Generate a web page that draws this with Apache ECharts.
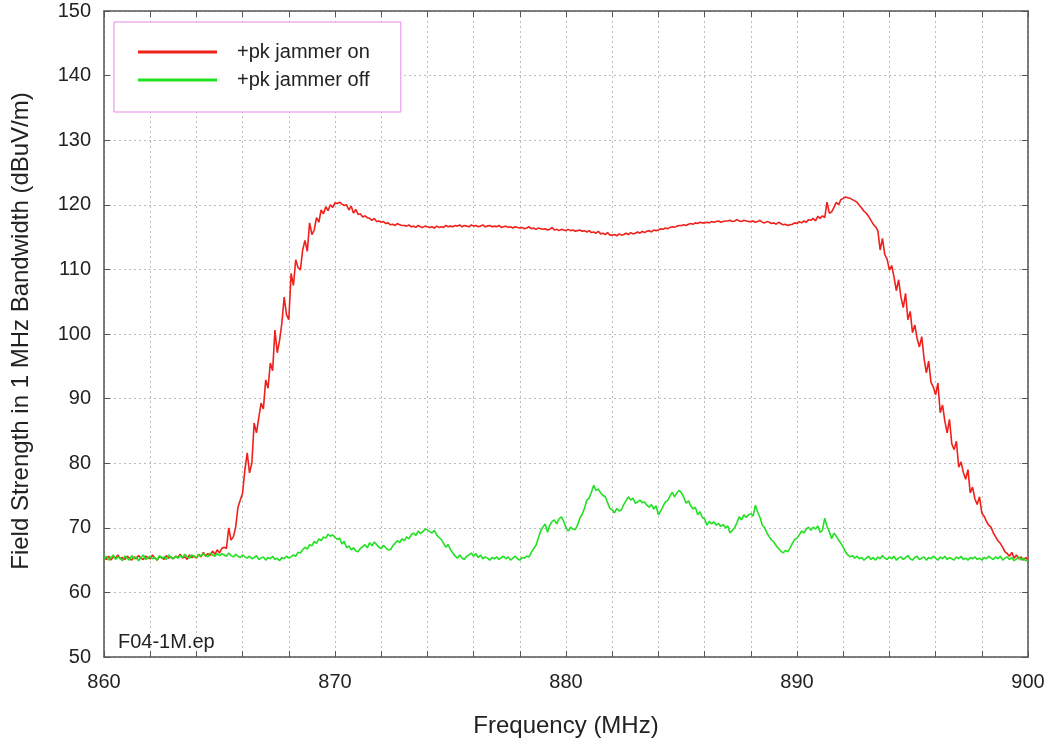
<!DOCTYPE html>
<html>
<head>
<meta charset="utf-8">
<title>Field strength, jammer on/off</title>
<script src="https://cdn.jsdelivr.net/npm/echarts@6/dist/echarts.min.js"></script>
<style>
  html, body { margin: 0; padding: 0; background: #fff; }
  #chart { width: 1052px; height: 752px; }
</style>
</head>
<body>
<div id="chart"></div>
<script>
// Sweep grid: 860 - 900 MHz in 0.1 MHz steps
const freqStart = 860;
const freqStep = 0.1;

// +pk detector, jammer on (dBuV/m)
const jammerOn = [
  65.4, 65.1, 65.6, 65.0, 65.5, 65.3, 65.8, 65.2, 65.4, 65.1,
  65.6, 65.3, 65.0, 65.5, 65.2, 65.7, 65.3, 65.1, 65.6, 65.4,
  65.2, 65.8, 65.3, 65.0, 65.5, 65.4, 65.1, 65.7, 65.3, 65.5,
  65.2, 65.6, 65.4, 65.9, 65.3, 65.5, 65.1, 65.8, 65.4, 65.6,
  65.3, 65.9, 65.5, 66.2, 65.6, 66.0, 65.7, 66.4, 65.9, 66.6,
  66.1, 66.8, 67.0, 66.8, 70.0, 68.1, 68.6, 70.1, 73.2, 74.3,
  75.4, 79.0, 81.6, 78.5, 80.0, 86.2, 84.7, 87.0, 89.3, 88.4,
  92.9, 91.6, 95.5, 94.3, 100.6, 97.1, 99.0, 101.7, 105.7, 103.0,
  102.2, 109.4, 107.5, 111.5, 110.3, 109.9, 113.0, 114.5, 112.8, 117.2,
  115.4, 116.1, 118.0, 117.3, 119.2, 118.6, 119.7, 119.1, 120.0, 119.6,
  120.3, 120.2, 120.4, 120.1, 119.9, 120.0, 119.2, 119.8, 118.7, 119.3,
  118.5, 118.6, 118.1, 118.3, 118.0, 117.9, 117.6, 117.9, 117.4, 117.5,
  117.3, 117.4, 117.1, 117.2, 116.9, 117.0, 116.8, 117.1, 116.9, 116.8,
  116.8, 116.7, 116.9, 116.6, 116.7, 116.5, 116.8, 116.6, 116.5, 116.7,
  116.6, 116.5, 116.6, 116.4, 116.7, 116.5, 116.6, 116.5, 116.8, 116.6,
  116.7, 116.6, 116.8, 116.7, 116.9, 116.6, 116.8, 116.7, 116.6, 116.9,
  116.7, 116.8, 116.6, 116.7, 116.9, 116.6, 116.7, 116.8, 116.6, 116.7,
  116.6, 116.8, 116.5, 116.6, 116.7, 116.5, 116.6, 116.4, 116.6, 116.5,
  116.4, 116.5, 116.3, 116.4, 116.6, 116.3, 116.4, 116.2, 116.4, 116.3,
  116.2, 116.3, 116.1, 116.2, 116.5, 116.1, 116.2, 116.0, 116.2, 116.1,
  116.0, 116.2, 116.0, 116.1, 115.9, 116.0, 116.1, 115.9, 116.0, 115.8,
  116.0, 115.7, 115.8, 115.6, 115.9, 115.5, 115.6, 115.4, 115.7, 115.3,
  115.3, 115.4, 115.2, 115.5, 115.3, 115.4, 115.6, 115.4, 115.7, 115.5,
  115.6, 115.8, 115.6, 115.9, 115.7, 115.9, 116.0, 115.8, 116.1, 116.0,
  116.1, 116.3, 116.2, 116.4, 116.3, 116.5, 116.6, 116.5, 116.7, 116.8,
  116.8, 116.9, 116.8, 117.0, 117.1, 117.0, 117.2, 117.1, 117.3, 117.2,
  117.2, 117.3, 117.2, 117.4, 117.3, 117.4, 117.5, 117.3, 117.4, 117.5,
  117.5, 117.6, 117.4, 117.5, 117.7, 117.5, 117.4, 117.6, 117.5, 117.4,
  117.4, 117.5, 117.3, 117.4, 117.6, 117.3, 117.2, 117.4, 117.3, 117.1,
  117.2, 117.0, 117.3, 117.1, 116.9, 117.0, 116.8, 116.9, 117.0, 117.2,
  117.1, 117.4, 117.2, 117.5, 117.3, 117.7, 117.6, 117.9, 117.5, 118.2,
  117.9, 118.3, 118.0, 120.4, 118.7, 118.9, 119.6, 120.4, 120.0, 120.8,
  121.0, 121.2, 121.1, 121.0, 120.8, 120.6, 120.4, 119.9, 119.5, 119.0,
  118.7, 118.2, 117.6, 117.0, 116.6, 116.0, 113.0, 114.8, 112.3, 111.6,
  109.9, 110.6, 108.8, 106.7, 108.4, 105.7, 104.1, 106.3, 102.2, 103.5,
  100.2, 101.4, 99.3, 98.0, 99.6, 96.2, 94.0, 95.8, 92.5, 91.8,
  90.6, 92.4, 87.8, 89.0, 86.5, 84.7, 86.8, 83.0, 82.1, 83.4,
  79.4, 80.2, 78.6, 77.5, 79.0, 75.4, 76.3, 74.5, 73.6, 74.8,
  72.3, 71.8, 71.0, 70.4, 70.1, 69.2, 68.6, 68.0, 67.6, 67.0,
  66.3, 66.0, 65.6, 66.2, 65.3, 65.8, 65.2, 65.5, 65.0, 65.4,
  65.0
];

// +pk detector, jammer off (dBuV/m)
const jammerOff = [
  65.2, 65.6, 65.0, 65.4, 65.8, 65.1, 65.5, 65.3, 64.9, 65.6,
  65.3, 65.0, 65.7, 65.2, 65.5, 64.9, 65.4, 65.8, 65.1, 65.3,
  65.6, 65.2, 65.4, 65.0, 65.7, 65.3, 65.5, 65.1, 65.8, 65.4,
  65.2, 65.6, 65.3, 65.7, 65.4, 65.9, 65.5, 65.3, 65.8, 65.6,
  65.4, 65.9, 65.6, 66.0, 65.7, 65.5, 66.1, 65.8, 65.6, 66.0,
  65.7, 66.0, 65.8, 65.6, 66.1, 65.7, 65.5, 65.9, 65.6, 65.4,
  65.8, 65.5, 65.3, 65.6, 65.2, 65.4, 65.7, 65.1, 65.3, 65.5,
  65.0, 65.4, 65.2, 65.6, 65.1, 65.3, 64.9, 65.4, 65.2, 65.6,
  65.3, 65.5, 65.8, 65.6, 66.2, 66.1, 66.6, 67.0, 66.7, 67.4,
  67.2, 67.9, 67.6, 68.3, 68.0, 68.6, 68.4, 69.0, 68.7, 68.9,
  68.5, 68.2, 68.4, 67.5, 67.9, 66.9, 67.2, 66.6, 66.9, 66.4,
  66.3, 66.8, 67.1, 67.4, 66.9, 67.7, 67.2, 67.8, 67.4, 67.0,
  66.8, 67.3, 66.9, 66.6, 66.6, 67.2, 67.6, 68.0, 67.7, 68.3,
  68.0, 68.6, 68.3, 68.9, 69.2, 68.8, 69.5, 69.1, 69.4, 69.8,
  69.7, 69.4, 69.2, 69.6, 68.9, 68.5, 68.2, 67.6, 67.0, 67.4,
  66.6, 66.1, 65.6, 65.3, 65.8, 65.3, 65.1, 65.6, 65.8, 66.1,
  65.6, 66.0, 65.4, 65.8, 65.2, 65.5, 65.3, 65.0, 65.4, 65.2,
  65.5, 65.1, 65.4, 65.6, 65.2, 65.5, 65.0, 65.3, 65.6, 65.2,
  65.0, 65.4, 65.3, 65.6, 65.5, 66.2, 66.8, 67.3, 68.4, 69.5,
  70.1, 70.6, 69.3, 70.4, 71.0, 71.2, 70.6, 71.4, 71.7, 71.0,
  70.0, 69.5, 70.1, 69.8, 69.7, 70.4, 71.5, 72.1, 73.0, 74.3,
  74.6, 75.5, 76.6, 75.8, 76.0, 75.4, 75.0, 74.8, 73.9, 73.0,
  72.8, 72.3, 73.0, 72.6, 72.8, 73.6, 74.2, 74.8, 74.3, 74.6,
  73.8, 74.0, 74.3, 73.9, 74.0, 73.5, 73.2, 73.6, 72.9, 73.4,
  72.0, 72.6, 73.3, 74.0, 74.2, 74.9, 75.5, 74.8, 75.4, 75.8,
  75.4, 74.7, 73.8, 74.2, 73.4, 72.9, 73.2, 72.0, 72.5, 71.6,
  71.4, 70.4, 71.0, 70.6, 70.9, 70.4, 70.7, 70.2, 70.5, 70.0,
  70.3, 69.2, 69.6, 70.0, 70.8, 71.7, 71.2, 72.0, 71.6, 72.0,
  72.2, 71.8, 73.5, 72.4, 71.6, 70.4, 70.0, 69.2, 68.6, 68.1,
  67.8, 67.2, 66.8, 66.4, 66.1, 66.5, 66.3, 66.9, 67.6, 68.2,
  68.4, 68.9, 69.5, 69.2, 69.8, 70.1, 69.6, 70.1, 69.8, 70.3,
  69.3, 69.6, 71.5, 70.2, 69.4, 68.3, 69.2, 68.7, 68.1, 67.6,
  67.0, 66.3, 65.8, 65.5, 65.7, 65.3, 65.6, 65.2, 65.4, 65.0,
  65.3, 65.6, 65.1, 65.4, 65.0, 65.5, 65.2, 65.7, 65.3, 65.1,
  65.5, 65.2, 65.6, 65.0, 65.3, 65.5, 65.1, 65.4, 65.7, 65.2,
  65.0, 65.4, 65.6, 65.1, 65.3, 65.5, 65.0, 65.4, 65.2, 65.6,
  65.3, 65.0, 65.5, 65.2, 65.6, 65.1, 65.4, 65.2, 65.0, 65.5,
  65.2, 65.6, 65.1, 65.3, 65.0, 65.4, 65.2, 65.5, 65.1, 65.3,
  65.0, 65.4, 65.2, 65.6, 65.3, 65.1, 65.5, 65.2, 65.6, 65.0,
  65.3, 65.5, 65.1, 65.4, 64.9, 65.2, 65.5, 65.0, 65.3, 64.9,
  65.0
];

const seriesNames = ['+pk jammer on', '+pk jammer off'];
const seriesColors = ['#f0201a', '#22e022'];
const xLabelTicks = [860, 870, 880, 890, 900];
const fileTag = 'F04-1M.ep';

function toPairs(values) {
  return values.map((v, i) => [+(freqStart + i * freqStep).toFixed(1), v]);
}

const font = '"Liberation Sans", Arial, Helvetica, sans-serif';
const frameColor = '#555';
const gridLine = { show: true, lineStyle: { color: '#bcbcbc', type: [2, 3], width: 1 } };

const chart = echarts.init(document.getElementById('chart'), null, { renderer: 'canvas' });

chart.setOption({
  backgroundColor: '#fff',
  animation: false,
  textStyle: { fontFamily: font },
  grid: { left: 104, right: 24, top: 11, bottom: 95 },
  legend: {
    data: seriesNames,
    orient: 'vertical',
    left: 114,
    top: 22,
    padding: [20, 31, 22, 24],
    itemWidth: 79,
    itemHeight: 3,
    itemGap: 8,
    icon: 'rect',
    borderColor: '#e588e5',
    borderWidth: 1,
    backgroundColor: '#fff',
    textStyle: { fontSize: 20, color: '#222', lineHeight: 20, padding: [0, 0, 0, 15], fontFamily: font }
  },
  xAxis: [
    {
      type: 'value', min: 860, max: 900, interval: 2,
      name: 'Frequency (MHz)', nameLocation: 'middle', nameGap: 57,
      nameTextStyle: { fontSize: 24, color: '#222', fontFamily: font },
      axisLine: { lineStyle: { color: frameColor, width: 1.5 } },
      axisTick: { inside: true, length: 6, lineStyle: { color: frameColor } },
      axisLabel: {
        fontSize: 20, color: '#222', margin: 15,
        formatter: v => (xLabelTicks.includes(v) ? String(v) : '')
      },
      splitLine: gridLine
    },
    {
      type: 'value', position: 'top', min: 860, max: 900, interval: 2,
      axisLine: { lineStyle: { color: frameColor, width: 1.5 } },
      axisTick: { inside: true, length: 6, lineStyle: { color: frameColor } },
      axisLabel: { show: false },
      splitLine: { show: false }
    }
  ],
  yAxis: [
    {
      type: 'value', min: 50, max: 150, interval: 10,
      name: 'Field Strength in 1 MHz Bandwidth (dBuV/m)', nameLocation: 'middle', nameGap: 71,
      nameTextStyle: { fontSize: 24, color: '#222', fontFamily: font, padding: [0, 0, 0, 6] },
      axisLine: { show: true, lineStyle: { color: frameColor, width: 1.5 } },
      axisTick: { show: true, inside: true, length: 6, lineStyle: { color: frameColor } },
      axisLabel: { fontSize: 20, color: '#222', margin: 13, padding: [5, 0, 0, 0] },
      splitLine: gridLine
    },
    {
      type: 'value', position: 'right', min: 50, max: 150, interval: 10,
      axisLine: { show: true, lineStyle: { color: frameColor, width: 1.5 } },
      axisTick: { show: true, inside: true, length: 6, lineStyle: { color: frameColor } },
      axisLabel: { show: false },
      splitLine: { show: false }
    }
  ],
  series: [
    {
      name: seriesNames[0], type: 'line', data: toPairs(jammerOn),
      showSymbol: false, symbol: 'none', z: 3,
      lineStyle: { color: seriesColors[0], width: 1.6 },
      itemStyle: { color: seriesColors[0] }
    },
    {
      name: seriesNames[1], type: 'line', data: toPairs(jammerOff),
      showSymbol: false, symbol: 'none', z: 4,
      lineStyle: { color: seriesColors[1], width: 1.6 },
      itemStyle: { color: seriesColors[1] }
    }
  ],
  graphic: [
    {
      type: 'text', left: 118, top: 632, z: 10,
      style: { text: fileTag, font: '20px ' + font, fill: '#222' }
    }
  ]
});
</script>
</body>
</html>
